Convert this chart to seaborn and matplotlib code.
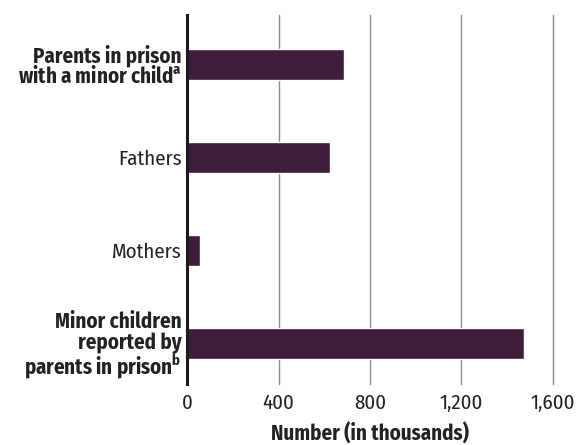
import matplotlib
matplotlib.use("Agg")
import matplotlib.pyplot as plt
import seaborn as sb

# data (thousands)
categories = ["Parents in prison\nwith a minor child$^{\\mathbf{a}}$",
              "Fathers",
              "Mothers",
              "Minor children\nreported by\nparents in prison$^{\\mathbf{b}}$"]
values = [684.5, 626.8, 57.7, 1473.7]
xticks = [0, 400, 800, 1200, 1600]
xtick_labels = ["0", "400", "800", "1,200", "1,600"]

FONT = 'Fira Sans Condensed'

sb.set_style("white")
plt.rcParams['font.family'] = [FONT, 'DejaVu Sans']
plt.rcParams['mathtext.fontset'] = 'custom'
plt.rcParams['mathtext.rm'] = FONT
plt.rcParams['mathtext.bf'] = FONT + ':bold'

fig = plt.figure(figsize=(5.77, 4.45), dpi=100)
ax = fig.add_axes([0.3246, 0.1371, 0.6333, 0.8292])

sb.barplot(x=values, y=categories, orient='h', color='#3f1d3b',
           saturation=1, width=0.333, ax=ax, zorder=3)

ax.set_xlim(0, 1600)
ax.set_ylim(3.435, -0.53)
ax.set_xticks(xticks)
ax.set_xticklabels(xtick_labels, fontsize=15, color='#222222')
ax.tick_params(axis='both', length=0)
ax.tick_params(axis='x', pad=7)
ax.tick_params(axis='y', pad=4)
ax.xaxis.grid(True, color='#8a8a8a', linewidth=1)
ax.yaxis.grid(False)
ax.set_axisbelow(True)
for gl in ax.get_xgridlines():
    gl.set_clip_on(False)

labels = ax.get_yticklabels()
for i, lab in enumerate(labels):
    lab.set_fontsize(15)
    lab.set_color('#222222')
    if i in (0, 3):
        lab.set_fontweight('bold')
    lab.set_linespacing(0.95)

for s in ['top', 'right', 'bottom']:
    ax.spines[s].set_visible(False)
ax.spines['left'].set_color('#1a1a1a')
ax.spines['left'].set_linewidth(2.2)
ax.spines['left'].set_zorder(4)

ax.set_xlabel('Number (in thousands)', fontsize=15, fontweight='bold',
              color='#222222', labelpad=7)
ax.set_ylabel('')

fig.savefig('out.png', dpi=100)
